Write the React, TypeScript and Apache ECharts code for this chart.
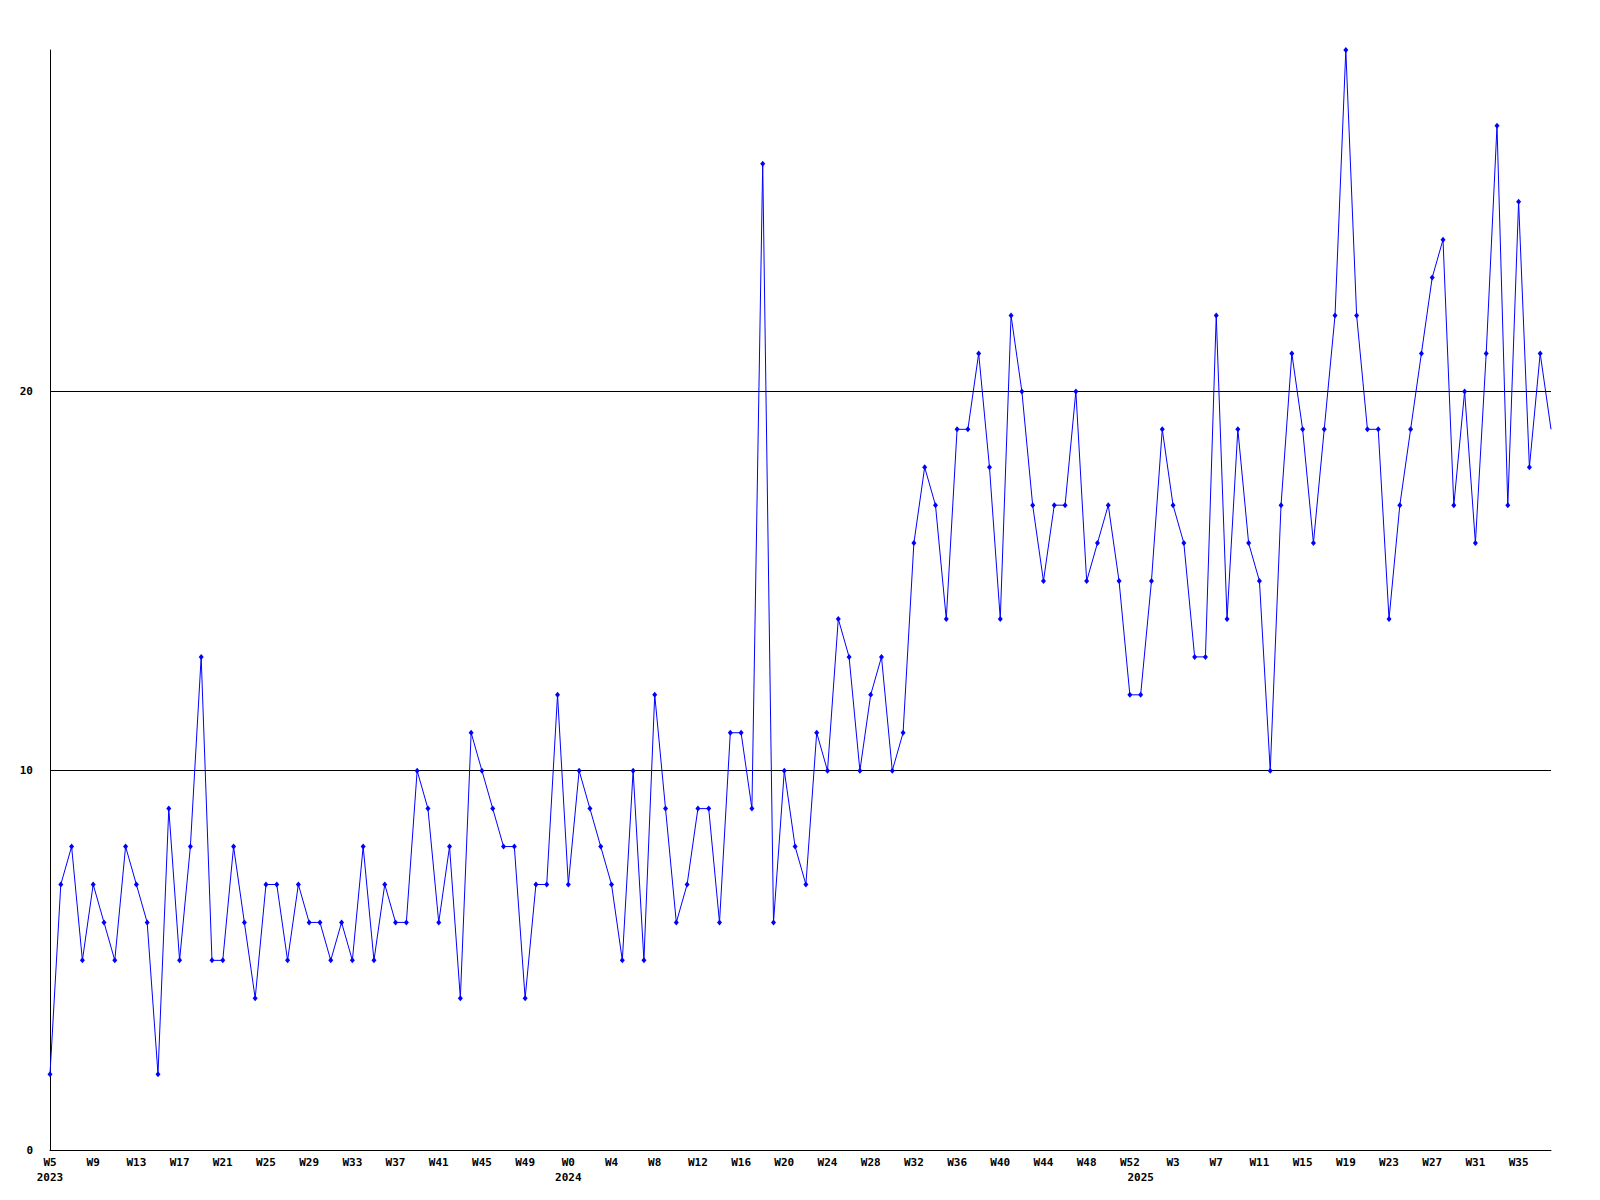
import React, { useEffect, useRef } from "react";
import * as echarts from "echarts";

// Week ranges per year (first week, last week shown)
const years = [2023, 2024, 2025];
const firstWeeks = [5, 0, 0];
const lastWeeks = [52, 52, 38];

// Weekly counts
const values2023 = [
  2, 7, 8, 5, 7, 6, 5, 8, 7, 6,
  2, 9, 5, 8, 13, 5, 5, 8, 6, 4,
  7, 7, 5, 7, 6, 6, 5, 6, 5, 8,
  5, 7, 6, 6, 10, 9, 6, 8, 4, 11,
  10, 9, 8, 8, 4, 7, 7, 12,
];
const values2024 = [
  7, 10, 9, 8, 7, 5, 10, 5, 12, 9,
  6, 7, 9, 9, 6, 11, 11, 9, 26, 6,
  10, 8, 7, 11, 10, 14, 13, 10, 12, 13,
  10, 11, 16, 18, 17, 14, 19, 19, 21, 18,
  14, 22, 20, 17, 15, 17, 17, 20, 15, 16,
  17, 15, 12,
];
const values2025 = [
  12, 15, 19, 17, 16, 13, 13, 22, 14, 19,
  16, 15, 10, 17, 21, 19, 16, 19, 22, 29,
  22, 19, 19, 14, 17, 19, 21, 23, 24, 17,
  20, 16, 21, 27, 17, 25, 18, 21, 19,
];

const yTicks = [0, 10, 20];
const gridValues = [10, 20];

export default function App() {
  const ref = useRef<HTMLDivElement>(null);

  useEffect(() => {
    document.body.style.margin = "0";
    if (!ref.current) return;
    const chart = echarts.init(ref.current, null, { renderer: "svg" });

    const categories: string[] = [];
    const yearStart = new Set<number>();
    years.forEach((y, k) => {
      yearStart.add(categories.length);
      for (let w = firstWeeks[k]; w <= lastWeeks[k]; w++) {
        categories.push(y + " W" + w);
      }
    });
    const allValues = [...values2023, ...values2024, ...values2025];
    const seriesData = allValues.map((v, i) =>
      i === allValues.length - 1 ? { value: v, symbol: "none" } : v
    );

    const font = {
      fontFamily: "'DejaVu Sans Mono', 'Liberation Mono', monospace",
      fontWeight: "bold" as const,
      fontSize: 11,
      color: "#000",
    };

    chart.setOption({
      animation: false,
      backgroundColor: "#fff",
      grid: { left: 50, right: 49, top: 50, bottom: 50, containLabel: false },
      xAxis: [
        {
          type: "category",
          data: categories,
          boundaryGap: false,
          position: "bottom",
          axisLine: { show: true, lineStyle: { color: "#000", width: 1 } },
          axisTick: { show: false },
          splitLine: { show: false },
          axisLabel: {
            ...font,
            margin: 7,
            interval: (index: number) => index % 4 === 0,
            formatter: (value: string) => value.split(" ")[1],
          },
        },
        {
          type: "category",
          data: categories,
          boundaryGap: false,
          position: "bottom",
          offset: 15,
          axisLine: { show: false },
          axisTick: { show: false },
          splitLine: { show: false },
          axisLabel: {
            ...font,
            margin: 7,
            interval: (index: number) => yearStart.has(index),
            formatter: (value: string) => value.split(" ")[0],
          },
        },
      ],
      yAxis: {
        type: "value",
        min: 0,
        max: 29,
        interval: 10,
        axisLine: { show: true, lineStyle: { color: "#000", width: 1 } },
        axisTick: { show: false },
        splitLine: { show: false },
        axisLabel: {
          ...font,
          margin: 17,
          showMaxLabel: false,
          formatter: (v: number) => (yTicks.includes(v) ? String(v) : ""),
        },
      },
      series: [
        {
          type: "line",
          xAxisIndex: 0,
          data: seriesData,
          symbol: "diamond",
          symbolSize: [5, 6],
          showAllSymbol: true,
          lineStyle: { color: "#0000ff", width: 1 },
          itemStyle: { color: "#0000ff" },
          z: 3,
          markLine: {
            silent: true,
            symbol: "none",
            label: { show: false },
            lineStyle: { color: "#000", width: 1, type: "solid" },
            data: gridValues.map((g) => ({ yAxis: g })),
            z: 1,
          },
        },
      ],
    });

    return () => chart.dispose();
  }, []);

  return <div ref={ref} style={{ width: 1600, height: 1200 }} />;
}
